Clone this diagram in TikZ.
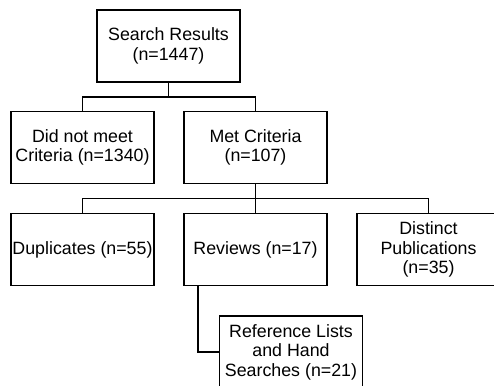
\documentclass[tikz,border=0pt]{standalone}
\usepackage{fontspec}
\setmainfont{Liberation Sans}
\usepackage{tikz}

\begin{document}
\begin{tikzpicture}[x=1pt,y=1pt,line width=1.3pt,
		box/.style={draw,rectangle,minimum width=143pt,minimum height=72pt,inner sep=0pt,align=center,font=\fontsize{17.8}{19.5}\selectfont}]
				\useasboundingbox (0,0) rectangle (494,385);
				\node[box] (search) at (168.5,339) {Search Results\\(n=1447)};
				\node[box] (notmet) at (82.5,237.5) {Did not meet\\Criteria (n=1340)};
				\node[box] (met) at (255.5,237.5) {Met Criteria\\(n=107)};
				\node[box] (dup) at (82.5,135.5) {Duplicates (n=55)};
				\node[box] (reviews) at (255.5,135.5) {Reviews (n=17)};
				\node[box] (distinct) at (428.5,135.5) {Distinct\\Publications\\(n=35)};
				\node[box] (reflist) at (291,33) {Reference Lists\\and Hand\\Searches (n=21)};
				\coordinate (split1) at (168.5,288);
				\coordinate (split2) at (255.5,186.5);
				\draw (search.south) -- (split1);
				\draw (notmet.north) |- (split1) -| (met.north);
				\draw (met.south) -- (split2);
				\draw (dup.north) |- (split2) -| (distinct.north);
				\draw (reviews.north) -- (split2);
				\draw ([xshift=14.7pt]reviews.south west) |- (reflist.west);
			\end{tikzpicture}
\end{document}
